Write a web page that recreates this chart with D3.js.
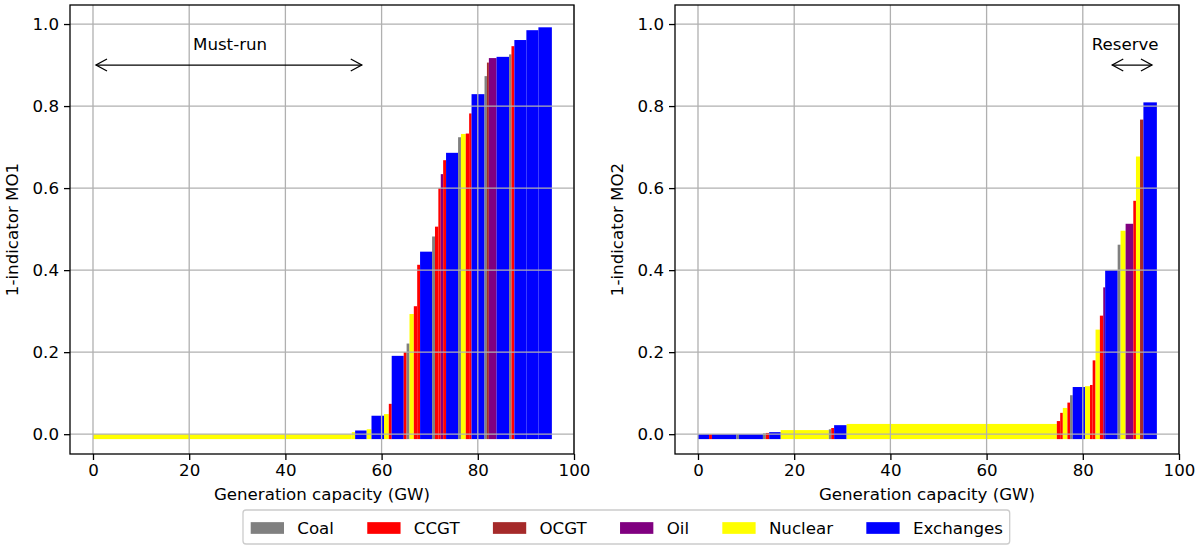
<!DOCTYPE html>
<html>
<head>
<meta charset="utf-8">
<script src="https://cdn.jsdelivr.net/npm/d3@7"></script>
<style>
body { margin: 0; background: #fff; }
text { font-family: "DejaVu Sans", sans-serif; }
</style>
</head>
<body>
<div id="chart"></div>
<script>
// technologies and legend colours
var techs = ["Coal", "CCGT", "OCGT", "Oil", "Nuclear", "Exchanges"];
var techColors = ["grey", "red", "brown", "purple", "yellow", "blue"];

// MO1 : merit order, capacity (GW) and 1-indicator value of each unit block
var mo1Tech = ["Nuclear","Nuclear","Exchanges","Nuclear","Exchanges","Nuclear","CCGT","Exchanges","CCGT","Coal",
  "Nuclear","CCGT","CCGT","Exchanges","Coal","CCGT","CCGT","Oil","CCGT","Exchanges",
  "Coal","Nuclear","CCGT","CCGT","Exchanges","Coal","OCGT","Oil","Exchanges","Coal",
  "CCGT","Exchanges","Exchanges","Exchanges"];
var mo1Capacity = [53.8, 0.7, 2.4, 1.0, 2.6, 1.0, 0.6, 2.5, 0.6, 0.6,
  0.9, 0.7, 0.6, 2.5, 0.6, 0.7, 0.5, 0.5, 0.6, 2.5,
  0.6, 1.0, 0.7, 0.5, 2.7, 0.5, 0.4, 1.6, 2.6, 0.5,
  0.6, 2.5, 2.5, 2.8];
var mo1Value = [0.0, 0.005, 0.009, 0.012, 0.045, 0.049, 0.074, 0.191, 0.2, 0.221,
  0.293, 0.312, 0.413, 0.445, 0.482, 0.506, 0.60, 0.634, 0.668, 0.686,
  0.724, 0.732, 0.733, 0.782, 0.829, 0.873, 0.906, 0.917, 0.920, 0.926,
  0.946, 0.961, 0.985, 0.992];

// MO2
var mo2Tech = ["Exchanges","CCGT","Exchanges","Coal","Exchanges","Coal","CCGT","Exchanges","Nuclear","Coal",
  "CCGT","Exchanges","Nuclear","CCGT","CCGT","Nuclear","CCGT","Coal","Exchanges","Nuclear",
  "CCGT","CCGT","Nuclear","CCGT","Oil","Exchanges","Coal","Nuclear","Oil","CCGT",
  "Nuclear","OCGT","Exchanges"];
var mo2Capacity = [2.3, 0.6, 5.1, 0.5, 5.0, 0.6, 0.7, 2.4, 10.0, 0.5,
  0.6, 2.6, 43.7, 0.7, 0.55, 0.95, 0.55, 0.55, 2.55, 1.05,
  0.55, 0.6, 0.9, 0.7, 0.4, 2.6, 0.6, 1.05, 1.6, 0.55,
  0.85, 0.7, 2.8];
var mo2Value = [0, 0, 0, 0, 0, 0.002, 0.003, 0.005, 0.01, 0.012,
  0.015, 0.022, 0.025, 0.032, 0.052, 0.064, 0.077, 0.095, 0.115, 0.117,
  0.12, 0.18, 0.255, 0.289, 0.358, 0.40, 0.462, 0.496, 0.513, 0.569,
  0.677, 0.767, 0.809];

var barBase = -0.012;
var xTicks = [0, 20, 40, 60, 80, 100];
var yTicks = [0.0, 0.2, 0.4, 0.6, 0.8, 1.0];

// annotations
var mustRun = {label: "Must-run", from: 0, to: 56.5, y: 0.9, tx: 28.5, ty: 0.95};
var reserve = {label: "Reserve", from: 85.5, to: 95, y: 0.9, tx: 88.8, ty: 0.95};

var W = 1203, H = 546, fs = 16.67;
var color = d3.scaleOrdinal().domain(techs).range(techColors);

var svg = d3.select("#chart").append("svg")
  .attr("width", W).attr("height", H);

function blocks(tech, cap, val) {
  var start = 0;
  return tech.map(function(t, i) {
    var b = {tech: t, x0: start, x1: start + cap[i], v: val[i]};
    start += cap[i];
    return b;
  });
}

var panels = [
  {left: 70, label: "1-indicator MO1", data: blocks(mo1Tech, mo1Capacity, mo1Value), note: mustRun},
  {left: 675, label: "1-indicator MO2", data: blocks(mo2Tech, mo2Capacity, mo2Value), note: reserve}
];

var plotTop = 5, plotBottom = 454, pw = 504;

panels.forEach(function(p) {
  var x = d3.scaleLinear().domain([-4.78, 100.0]).range([p.left, p.left + pw]);
  var y = d3.scaleLinear().domain([-0.0483, 1.0464]).range([plotBottom, plotTop]);
  var g = svg.append("g");

  // bars
  g.append("g").selectAll("rect")
    .data(p.data)
    .enter()
    .append("rect")
    .attr("x", function(d) { return x(d.x0); })
    .attr("width", function(d) { return x(d.x1) - x(d.x0); })
    .attr("y", function(d) { return y(d.v); })
    .attr("height", function(d) { return y(barBase) - y(d.v); })
    .attr("fill", function(d) { return color(d.tech); });

  // grid on top of bars
  var grid = g.append("g").attr("stroke", "#b0b0b0").attr("stroke-width", 1.3);
  grid.selectAll(".gx").data(xTicks).enter().append("line")
    .attr("x1", function(d) { return x(d); }).attr("x2", function(d) { return x(d); })
    .attr("y1", plotTop).attr("y2", plotBottom);
  grid.selectAll(".gy").data(yTicks).enter().append("line")
    .attr("y1", function(d) { return y(d); }).attr("y2", function(d) { return y(d); })
    .attr("x1", p.left).attr("x2", p.left + pw);

  // axes
  var xAxis = d3.axisBottom(x).tickValues(xTicks).tickSize(6).tickPadding(4).tickFormat(d3.format("d"));
  var yAxis = d3.axisLeft(y).tickValues(yTicks).tickSize(6).tickPadding(5).tickFormat(d3.format(".1f"));
  g.append("g").attr("transform", "translate(0," + plotBottom + ")").call(xAxis);
  g.append("g").attr("transform", "translate(" + p.left + ",0)").call(yAxis);
  g.selectAll(".domain").remove();
  g.selectAll(".tick line").attr("stroke", "#000").attr("stroke-width", 1.3);
  g.selectAll(".tick text").attr("font-size", fs).attr("font-family", "DejaVu Sans").attr("fill", "#000");

  // frame
  g.append("rect")
    .attr("x", p.left).attr("y", plotTop).attr("width", pw).attr("height", plotBottom - plotTop)
    .attr("fill", "none").attr("stroke", "#000").attr("stroke-width", 1.3);

  // labels
  g.append("text")
    .attr("x", p.left + pw / 2).attr("y", 500)
    .attr("text-anchor", "middle").attr("font-size", fs)
    .text("Generation capacity (GW)");
  g.append("text")
    .attr("transform", "translate(" + (p.left - 52) + "," + ((plotTop + plotBottom) / 2) + ") rotate(-90)")
    .attr("text-anchor", "middle").attr("font-size", fs)
    .text(p.label);

  // double arrow
  var n = p.note, ay = y(n.y), xa = x(n.from) + 3, xb = x(n.to) - 3;
  var arr = g.append("g").attr("stroke", "#000").attr("stroke-width", 1.3).attr("fill", "none");
  arr.append("line").attr("x1", xa).attr("x2", xb).attr("y1", ay).attr("y2", ay);
  arr.append("path").attr("d", "M" + (xa + 11) + "," + (ay - 6) + "L" + xa + "," + ay + "L" + (xa + 11) + "," + (ay + 6));
  arr.append("path").attr("d", "M" + (xb - 11) + "," + (ay - 6) + "L" + xb + "," + ay + "L" + (xb - 11) + "," + (ay + 6));
  g.append("text")
    .attr("x", x(n.tx)).attr("y", y(n.ty)).attr("dy", "0.35em")
    .attr("text-anchor", "middle").attr("font-size", fs)
    .text(n.label);
});

// legend
var legend = svg.append("g").attr("class", "legend");
var lx = 243, ly = 510, pad = 6.7, patchW = 33.3, patchH = 11.7, gap = 13.3, colSp = 33.3;
var frame = legend.append("rect")
  .attr("x", lx).attr("y", ly).attr("rx", 3).attr("height", 34)
  .attr("fill", "#fff").attr("fill-opacity", 0.8)
  .attr("stroke", "#cccccc").attr("stroke-width", 1.3);
var cx = lx + pad + 1;
techs.forEach(function(t, i) {
  legend.append("rect")
    .attr("x", cx).attr("y", 528 - patchH / 2)
    .attr("width", patchW).attr("height", patchH)
    .attr("fill", color(t));
  var tx = legend.append("text")
    .attr("x", cx + patchW + gap).attr("y", 528).attr("dy", "0.35em")
    .attr("font-size", fs)
    .text(t);
  cx += patchW + gap + tx.node().getComputedTextLength() + (i < techs.length - 1 ? colSp : 0);
});
frame.attr("width", cx + pad - lx);
</script>
</body>
</html>
